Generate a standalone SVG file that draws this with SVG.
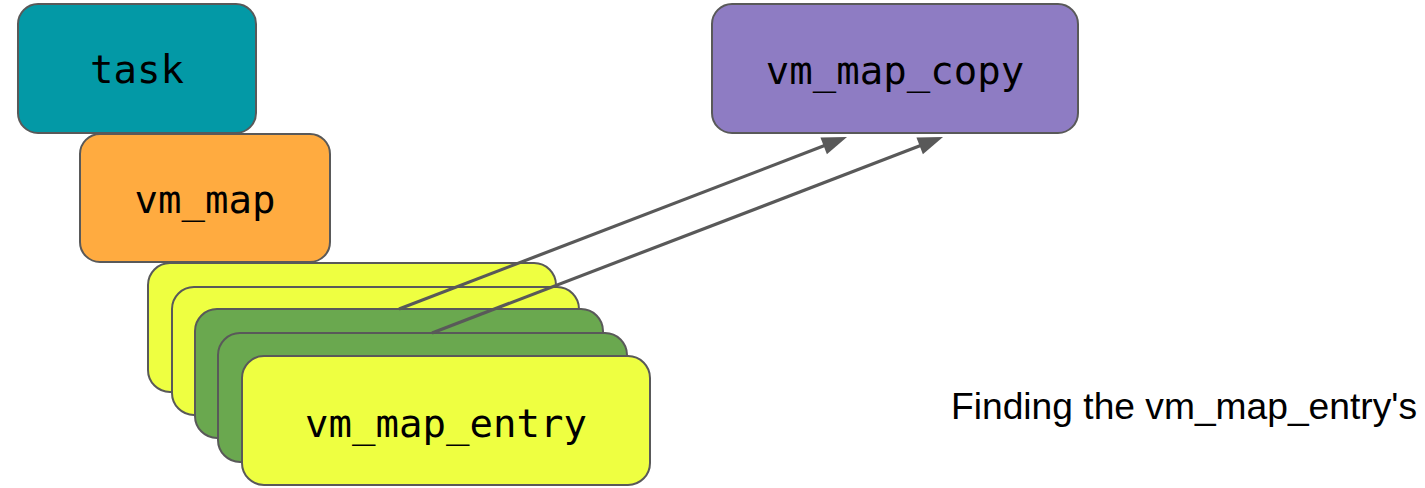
<svg xmlns="http://www.w3.org/2000/svg" width="1425" height="488" viewBox="0 0 1425 488">
<style>
.box{stroke:#595959;stroke-width:2}
.mono{font-family:"DejaVu Sans Mono","Liberation Mono",monospace;font-size:39px;fill:#000;text-anchor:middle}
.label{font-family:"Liberation Sans",Arial,sans-serif;font-size:37.2px;fill:#000}
.conn{stroke:#595959;stroke-width:3.2;fill:none}
</style>
<defs>
<marker id="arrow" markerUnits="userSpaceOnUse" markerWidth="30" markerHeight="24" refX="1" refY="10" orient="auto" overflow="visible">
<path d="M0,1 L25,10 L0,19 Z" fill="#595959"/>
</marker>
</defs>
<rect width="1425" height="488" fill="#fff"/>
<g id="task">
<rect class="box" x="18" y="4" width="238" height="129" rx="20" fill="#0399A6"/>
<text class="mono" x="137" y="83">task</text>
</g>
<g id="vm_map">
<rect class="box" x="80" y="134" width="250" height="128" rx="20" fill="#FFAB40"/>
<text class="mono" x="205" y="213">vm_map</text>
</g>
<g id="vm_map_copy">
<rect class="box" x="712" y="4" width="366" height="129" rx="20" fill="#8E7CC3"/>
<text class="mono" x="895" y="84">vm_map_copy</text>
</g>
<g id="entry1">
<rect class="box" x="148" y="263" width="408" height="129" rx="22" fill="#EEFF41"/>
</g>
<g id="entry2">
<rect class="box" x="172" y="287" width="407" height="128" rx="22" fill="#EEFF41"/>
</g>
<g id="entry3">
<rect class="box" x="195" y="309" width="408" height="129" rx="22" fill="#6AA84F"/>
</g>
<g id="entry4">
<rect class="box" x="218" y="333" width="409" height="129" rx="22" fill="#6AA84F"/>
</g>
<g id="vm_map_entry">
<rect class="box" x="242" y="356" width="408" height="129" rx="22" fill="#EEFF41"/>
<text class="mono" x="446" y="437">vm_map_entry</text>
</g>
<g id="connectors">
<path class="conn" d="M399,309 L824.6,145.6" marker-end="url(#arrow)"/>
<path class="conn" d="M432,333 L920.6,145.6" marker-end="url(#arrow)"/>
</g>
<g id="caption">
<text class="label" x="951" y="419">Finding the vm_map_entry's</text>
</g>
</svg>
